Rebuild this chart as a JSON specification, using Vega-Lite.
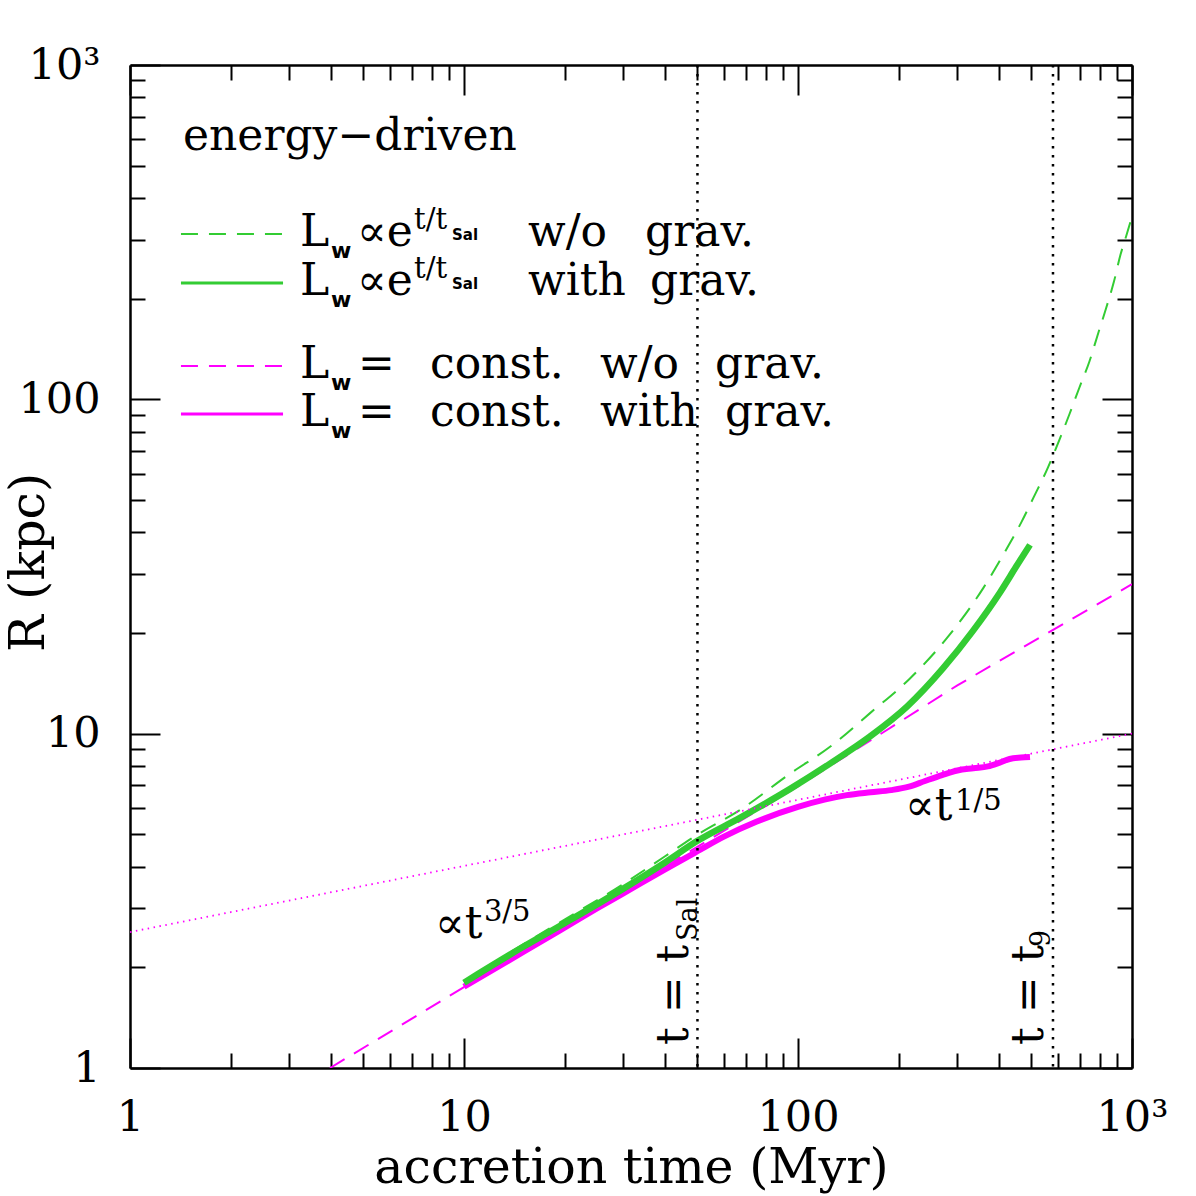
{
  "$schema": "https://vega.github.io/schema/vega-lite/v6.json",
  "width": 1002,
  "height": 1003,
  "autosize": "none",
  "padding": {"left": 130, "top": 65, "right": 64, "bottom": 128},
  "background": "white",
  "config": {"view": {"stroke": null}, "font": "DejaVu Serif"},
  "datasets": {
    "curves": [
      {"series": "const_grav", "t": 10, "R": 1.75},
      {"series": "const_grav", "t": 15, "R": 2.22},
      {"series": "const_grav", "t": 20, "R": 2.63},
      {"series": "const_grav", "t": 25, "R": 3.0},
      {"series": "const_grav", "t": 30, "R": 3.33},
      {"series": "const_grav", "t": 40, "R": 3.93},
      {"series": "const_grav", "t": 50, "R": 4.45},
      {"series": "const_grav", "t": 60, "R": 4.92},
      {"series": "const_grav", "t": 75, "R": 5.45},
      {"series": "const_grav", "t": 100, "R": 6.04},
      {"series": "const_grav", "t": 120, "R": 6.35},
      {"series": "const_grav", "t": 140, "R": 6.55},
      {"series": "const_grav", "t": 165, "R": 6.68},
      {"series": "const_grav", "t": 190, "R": 6.78},
      {"series": "const_grav", "t": 215, "R": 6.94},
      {"series": "const_grav", "t": 240, "R": 7.22},
      {"series": "const_grav", "t": 270, "R": 7.52},
      {"series": "const_grav", "t": 300, "R": 7.76},
      {"series": "const_grav", "t": 335, "R": 7.88},
      {"series": "const_grav", "t": 370, "R": 7.98},
      {"series": "const_grav", "t": 400, "R": 8.18},
      {"series": "const_grav", "t": 430, "R": 8.4},
      {"series": "const_grav", "t": 465, "R": 8.48},
      {"series": "const_grav", "t": 495, "R": 8.52},

      {"series": "const_nograv", "t": 3.97, "R": 1.0},
      {"series": "const_nograv", "t": 10, "R": 1.745},
      {"series": "const_nograv", "t": 30, "R": 3.38},
      {"series": "const_nograv", "t": 100, "R": 6.96},
      {"series": "const_nograv", "t": 300, "R": 13.95},
      {"series": "const_nograv", "t": 1000, "R": 28.0},

      {"series": "exp_grav", "t": 10, "R": 1.8},
      {"series": "exp_grav", "t": 15, "R": 2.3},
      {"series": "exp_grav", "t": 20, "R": 2.71},
      {"series": "exp_grav", "t": 30, "R": 3.44},
      {"series": "exp_grav", "t": 40, "R": 4.12},
      {"series": "exp_grav", "t": 50, "R": 4.78},
      {"series": "exp_grav", "t": 67, "R": 5.6},
      {"series": "exp_grav", "t": 95, "R": 6.85},
      {"series": "exp_grav", "t": 125, "R": 8.15},
      {"series": "exp_grav", "t": 164, "R": 9.8},
      {"series": "exp_grav", "t": 212, "R": 12.05},
      {"series": "exp_grav", "t": 272, "R": 15.7},
      {"series": "exp_grav", "t": 334, "R": 20.3},
      {"series": "exp_grav", "t": 403, "R": 26.5},
      {"series": "exp_grav", "t": 450, "R": 31.6},
      {"series": "exp_grav", "t": 495, "R": 36.7},

      {"series": "exp_nograv", "t": 10, "R": 1.81},
      {"series": "exp_nograv", "t": 15, "R": 2.34},
      {"series": "exp_nograv", "t": 20, "R": 2.78},
      {"series": "exp_nograv", "t": 30, "R": 3.55},
      {"series": "exp_nograv", "t": 40, "R": 4.3},
      {"series": "exp_nograv", "t": 51, "R": 5.05},
      {"series": "exp_nograv", "t": 67, "R": 5.91},
      {"series": "exp_nograv", "t": 95, "R": 7.61},
      {"series": "exp_nograv", "t": 125, "R": 9.15},
      {"series": "exp_nograv", "t": 164, "R": 11.5},
      {"series": "exp_nograv", "t": 216, "R": 14.6},
      {"series": "exp_nograv", "t": 279, "R": 19.3},
      {"series": "exp_nograv", "t": 359, "R": 27.3},
      {"series": "exp_nograv", "t": 422, "R": 35.8},
      {"series": "exp_nograv", "t": 467, "R": 43.0},
      {"series": "exp_nograv", "t": 507, "R": 50.8},
      {"series": "exp_nograv", "t": 560, "R": 62.5},
      {"series": "exp_nograv", "t": 607, "R": 75.9},
      {"series": "exp_nograv", "t": 650, "R": 90.4},
      {"series": "exp_nograv", "t": 696, "R": 108.5},
      {"series": "exp_nograv", "t": 746, "R": 130},
      {"series": "exp_nograv", "t": 788, "R": 155},
      {"series": "exp_nograv", "t": 836, "R": 187},
      {"series": "exp_nograv", "t": 883, "R": 225},
      {"series": "exp_nograv", "t": 924, "R": 271},
      {"series": "exp_nograv", "t": 960, "R": 307},
      {"series": "exp_nograv", "t": 1000, "R": 352},

      {"series": "slope_1_5", "t": 1, "R": 2.55},
      {"series": "slope_1_5", "t": 1000, "R": 10.0}
    ],
    "keys": [
      {"series": "exp_nograv", "t": 1.421, "R": 312.4},
      {"series": "exp_nograv", "t": 2.872, "R": 312.4},
      {"series": "exp_grav", "t": 1.421, "R": 222.9},
      {"series": "exp_grav", "t": 2.872, "R": 222.9},
      {"series": "const_nograv", "t": 1.421, "R": 125.9},
      {"series": "const_nograv", "t": 2.872, "R": 125.9},
      {"series": "const_grav", "t": 1.421, "R": 90.43},
      {"series": "const_grav", "t": 2.872, "R": 90.43}
    ],
    "epochs": [
      {"name": "t_Sal", "t": 50},
      {"name": "t_9", "t": 580}
    ],
    "notes": [
      {"role": "main", "text": "energy−driven", "t": 1.441, "R": 557.2},
      {"role": "main", "text": "L", "t": 3.228, "R": 287.7},
      {"role": "main", "text": "∝e", "t": 4.782, "R": 287.7},
      {"role": "main", "text": "w/o", "t": 15.55, "R": 287.7},
      {"role": "main", "text": "grav.", "t": 34.83, "R": 287.7},
      {"role": "main", "text": "L", "t": 3.228, "R": 205.3},
      {"role": "main", "text": "∝e", "t": 4.782, "R": 205.3},
      {"role": "main", "text": "with", "t": 15.55, "R": 205.3},
      {"role": "main", "text": "grav.", "t": 36.05, "R": 205.3},
      {"role": "main", "text": "L", "t": 3.228, "R": 115.9},
      {"role": "main", "text": "=", "t": 4.815, "R": 115.9},
      {"role": "main", "text": "const.", "t": 7.91, "R": 115.9},
      {"role": "main", "text": "w/o", "t": 25.54, "R": 115.9},
      {"role": "main", "text": "grav.", "t": 56.43, "R": 115.9},
      {"role": "main", "text": "L", "t": 3.228, "R": 83.26},
      {"role": "main", "text": "=", "t": 4.815, "R": 83.26},
      {"role": "main", "text": "const.", "t": 7.91, "R": 83.26},
      {"role": "main", "text": "with", "t": 25.54, "R": 83.26},
      {"role": "main", "text": "grav.", "t": 60.44, "R": 83.26},
      {"role": "main", "text": "∝t", "t": 8.188, "R": 2.448},
      {"role": "main", "text": "∝t", "t": 209.1, "R": 5.519},
      {"role": "sub", "text": "w", "t": 4.0, "R": 264.9},
      {"role": "sub", "text": "w", "t": 4.0, "R": 188.9},
      {"role": "sub", "text": "w", "t": 4.0, "R": 106.7},
      {"role": "sub", "text": "w", "t": 4.0, "R": 76.65},
      {"role": "sup", "text": "t/t", "t": 7.084, "R": 323.4},
      {"role": "sup", "text": "t/t", "t": 7.084, "R": 230.7},
      {"role": "sup", "text": "3/5", "t": 11.47, "R": 2.753},
      {"role": "sup", "text": "1/5", "t": 295.2, "R": 5.912},
      {"role": "subsub", "text": "Sal", "t": 9.206, "R": 299.9},
      {"role": "subsub", "text": "Sal", "t": 9.206, "R": 213.9},
      {"role": "rot", "text": "t = t", "t": 46.84, "R": 1.172},
      {"role": "rot", "text": "t = t", "t": 541.4, "R": 1.172},
      {"role": "rotsub", "text": "Sal", "t": 49.83, "R": 2.399},
      {"role": "rotsub", "text": "9", "t": 568.2, "R": 2.301}
    ]
  },
  "resolve": {"axis": {"x": "independent", "y": "independent"}},
  "layer": [
    {
      "data": {"name": "curves"},
      "transform": [{"filter": "datum.series == 'const_grav'"}],
      "mark": {"type": "line", "stroke": "#ff00ff", "strokeWidth": 6, "interpolate": "monotone", "clip": true},
      "encoding": {
        "x": {
          "field": "t", "type": "quantitative",
          "scale": {"type": "log", "domain": [1, 1000], "nice": false},
          "axis": {
            "orient": "bottom",
            "values": [1, 2, 3, 4, 5, 6, 7, 8, 9, 10, 20, 30, 40, 50, 60, 70, 80, 90, 100, 200, 300, 400, 500, 600, 700, 800, 900, 1000],
            "tickSize": {"condition": {"test": "indexof([1, 10, 100, 1000], datum.value) >= 0", "value": -30}, "value": -15},
            "tickColor": "black", "tickWidth": 2,
            "domainColor": "black", "domainWidth": 2.5,
            "grid": false,
            "labelExpr": "datum.value == 1000 ? '10³' : (indexof([1, 10, 100], datum.value) >= 0 ? datum.label : '')",
            "labelFont": "DejaVu Serif", "labelFontSize": 43, "labelColor": "black",
            "labelBaseline": "top", "labelPadding": 58,
            "labelOverlap": false, "labelFlush": false, "labelBound": false,
            "title": "accretion time (Myr)",
            "titleFont": "DejaVu Serif", "titleFontSize": 49, "titleFontWeight": "normal", "titleColor": "black",
            "titleX": 501, "titleY": 114, "titleBaseline": "alphabetic", "titleAlign": "center"
          }
        },
        "y": {
          "field": "R", "type": "quantitative",
          "scale": {"type": "log", "domain": [1, 1000], "nice": false},
          "axis": {
            "orient": "left",
            "values": [1, 2, 3, 4, 5, 6, 7, 8, 9, 10, 20, 30, 40, 50, 60, 70, 80, 90, 100, 200, 300, 400, 500, 600, 700, 800, 900, 1000],
            "tickSize": {"condition": {"test": "indexof([1, 10, 100, 1000], datum.value) >= 0", "value": -30}, "value": -15},
            "tickColor": "black", "tickWidth": 2,
            "domainColor": "black", "domainWidth": 2.5,
            "grid": false,
            "labelExpr": "datum.value == 1000 ? '10³' : (indexof([1, 10, 100], datum.value) >= 0 ? datum.label : '')",
            "labelFont": "DejaVu Serif", "labelFontSize": 43, "labelColor": "black",
            "labelAlign": "right", "labelBaseline": "middle", "labelPadding": 60,
            "labelOverlap": false, "labelFlush": false, "labelBound": false,
            "title": "R (kpc)",
            "titleFont": "DejaVu Serif", "titleFontSize": 49, "titleFontWeight": "normal", "titleColor": "black",
            "titleX": -87, "titleY": 497, "titleBaseline": "alphabetic", "titleAlign": "center", "titleAngle": 270
          }
        }
      }
    },
    {
      "data": {"name": "curves"},
      "transform": [{"filter": "datum.series == 'const_nograv'"}],
      "mark": {"type": "line", "stroke": "#ff00ff", "strokeWidth": 2, "strokeDash": [17, 11], "clip": true},
      "encoding": {
        "x": {"field": "t", "type": "quantitative", "scale": {"type": "log", "domain": [1, 1000], "nice": false}, "axis": null},
        "y": {"field": "R", "type": "quantitative", "scale": {"type": "log", "domain": [1, 1000], "nice": false}, "axis": null}
      }
    },
    {
      "data": {"name": "curves"},
      "transform": [{"filter": "datum.series == 'exp_grav'"}],
      "mark": {"type": "line", "stroke": "#33cc33", "strokeWidth": 6.5, "interpolate": "monotone", "clip": true},
      "encoding": {
        "x": {"field": "t", "type": "quantitative", "scale": {"type": "log", "domain": [1, 1000], "nice": false}, "axis": null},
        "y": {"field": "R", "type": "quantitative", "scale": {"type": "log", "domain": [1, 1000], "nice": false}, "axis": null}
      }
    },
    {
      "data": {"name": "curves"},
      "transform": [{"filter": "datum.series == 'exp_nograv'"}],
      "mark": {"type": "line", "stroke": "#33cc33", "strokeWidth": 2, "strokeDash": [17, 11], "interpolate": "monotone", "clip": true},
      "encoding": {
        "x": {"field": "t", "type": "quantitative", "scale": {"type": "log", "domain": [1, 1000], "nice": false}, "axis": null},
        "y": {"field": "R", "type": "quantitative", "scale": {"type": "log", "domain": [1, 1000], "nice": false}, "axis": null}
      }
    },
    {
      "data": {"name": "curves"},
      "transform": [{"filter": "datum.series == 'slope_1_5'"}],
      "mark": {"type": "line", "stroke": "#ff00ff", "strokeWidth": 1.8, "strokeDash": [1.5, 4.5], "clip": true},
      "encoding": {
        "x": {
          "field": "t", "type": "quantitative",
          "scale": {"type": "log", "domain": [1, 1000], "nice": false},
          "axis": {
            "orient": "top",
            "values": [1, 2, 3, 4, 5, 6, 7, 8, 9, 10, 20, 30, 40, 50, 60, 70, 80, 90, 100, 200, 300, 400, 500, 600, 700, 800, 900, 1000],
            "tickSize": {"condition": {"test": "indexof([1, 10, 100, 1000], datum.value) >= 0", "value": -30}, "value": -15},
            "tickColor": "black", "tickWidth": 2,
            "domainColor": "black", "domainWidth": 2.5,
            "grid": false, "labels": false, "title": null
          }
        },
        "y": {
          "field": "R", "type": "quantitative",
          "scale": {"type": "log", "domain": [1, 1000], "nice": false},
          "axis": {
            "orient": "right",
            "values": [1, 2, 3, 4, 5, 6, 7, 8, 9, 10, 20, 30, 40, 50, 60, 70, 80, 90, 100, 200, 300, 400, 500, 600, 700, 800, 900, 1000],
            "tickSize": {"condition": {"test": "indexof([1, 10, 100, 1000], datum.value) >= 0", "value": -30}, "value": -15},
            "tickColor": "black", "tickWidth": 2,
            "domainColor": "black", "domainWidth": 2.5,
            "grid": false, "labels": false, "title": null
          }
        }
      }
    },
    {
      "data": {"name": "epochs"},
      "mark": {"type": "rule", "stroke": "black", "strokeWidth": 2.5, "strokeDash": [2.5, 6.5]},
      "encoding": {
        "x": {"field": "t", "type": "quantitative", "scale": {"type": "log", "domain": [1, 1000], "nice": false}, "axis": null}
      }
    },
    {
      "data": {"name": "keys"},
      "transform": [{"filter": "datum.series == 'exp_nograv' || datum.series == 'const_nograv'"}],
      "mark": {"type": "line", "strokeWidth": 2, "strokeDash": [17, 11]},
      "encoding": {
        "x": {"field": "t", "type": "quantitative", "scale": {"type": "log", "domain": [1, 1000], "nice": false}, "axis": null},
        "y": {"field": "R", "type": "quantitative", "scale": {"type": "log", "domain": [1, 1000], "nice": false}, "axis": null},
        "detail": {"field": "series"},
        "color": {
          "field": "series", "type": "nominal", "legend": null,
          "scale": {"domain": ["exp_nograv", "exp_grav", "const_nograv", "const_grav"], "range": ["#33cc33", "#33cc33", "#ff00ff", "#ff00ff"]}
        }
      }
    },
    {
      "data": {"name": "keys"},
      "transform": [{"filter": "datum.series == 'exp_grav' || datum.series == 'const_grav'"}],
      "mark": {"type": "line", "strokeWidth": 3},
      "encoding": {
        "x": {"field": "t", "type": "quantitative", "scale": {"type": "log", "domain": [1, 1000], "nice": false}, "axis": null},
        "y": {"field": "R", "type": "quantitative", "scale": {"type": "log", "domain": [1, 1000], "nice": false}, "axis": null},
        "detail": {"field": "series"},
        "color": {
          "field": "series", "type": "nominal", "legend": null,
          "scale": {"domain": ["exp_nograv", "exp_grav", "const_nograv", "const_grav"], "range": ["#33cc33", "#33cc33", "#ff00ff", "#ff00ff"]}
        }
      }
    },
    {
      "data": {"name": "notes"},
      "transform": [{"filter": "datum.role == 'main'"}],
      "mark": {"type": "text", "font": "DejaVu Serif", "fontSize": 44, "align": "left", "baseline": "alphabetic", "color": "black"},
      "encoding": {
        "x": {"field": "t", "type": "quantitative", "scale": {"type": "log", "domain": [1, 1000], "nice": false}, "axis": null},
        "y": {"field": "R", "type": "quantitative", "scale": {"type": "log", "domain": [1, 1000], "nice": false}, "axis": null},
        "text": {"field": "text"}
      }
    },
    {
      "data": {"name": "notes"},
      "transform": [{"filter": "datum.role == 'sub'"}],
      "mark": {"type": "text", "font": "DejaVu Sans", "fontWeight": "bold", "fontSize": 22, "align": "left", "baseline": "alphabetic", "color": "black"},
      "encoding": {
        "x": {"field": "t", "type": "quantitative", "scale": {"type": "log", "domain": [1, 1000], "nice": false}, "axis": null},
        "y": {"field": "R", "type": "quantitative", "scale": {"type": "log", "domain": [1, 1000], "nice": false}, "axis": null},
        "text": {"field": "text"}
      }
    },
    {
      "data": {"name": "notes"},
      "transform": [{"filter": "datum.role == 'sup'"}],
      "mark": {"type": "text", "font": "DejaVu Serif", "fontSize": 29, "align": "left", "baseline": "alphabetic", "color": "black"},
      "encoding": {
        "x": {"field": "t", "type": "quantitative", "scale": {"type": "log", "domain": [1, 1000], "nice": false}, "axis": null},
        "y": {"field": "R", "type": "quantitative", "scale": {"type": "log", "domain": [1, 1000], "nice": false}, "axis": null},
        "text": {"field": "text"}
      }
    },
    {
      "data": {"name": "notes"},
      "transform": [{"filter": "datum.role == 'subsub'"}],
      "mark": {"type": "text", "font": "DejaVu Sans", "fontWeight": "bold", "fontSize": 15, "align": "left", "baseline": "alphabetic", "color": "black"},
      "encoding": {
        "x": {"field": "t", "type": "quantitative", "scale": {"type": "log", "domain": [1, 1000], "nice": false}, "axis": null},
        "y": {"field": "R", "type": "quantitative", "scale": {"type": "log", "domain": [1, 1000], "nice": false}, "axis": null},
        "text": {"field": "text"}
      }
    },
    {
      "data": {"name": "notes"},
      "transform": [{"filter": "datum.role == 'rot'"}],
      "mark": {"type": "text", "font": "DejaVu Serif", "fontSize": 44, "angle": 270, "align": "left", "baseline": "alphabetic", "color": "black"},
      "encoding": {
        "x": {"field": "t", "type": "quantitative", "scale": {"type": "log", "domain": [1, 1000], "nice": false}, "axis": null},
        "y": {"field": "R", "type": "quantitative", "scale": {"type": "log", "domain": [1, 1000], "nice": false}, "axis": null},
        "text": {"field": "text"}
      }
    },
    {
      "data": {"name": "notes"},
      "transform": [{"filter": "datum.role == 'rotsub'"}],
      "mark": {"type": "text", "font": "DejaVu Serif", "fontSize": 27, "angle": 270, "align": "left", "baseline": "alphabetic", "color": "black"},
      "encoding": {
        "x": {"field": "t", "type": "quantitative", "scale": {"type": "log", "domain": [1, 1000], "nice": false}, "axis": null},
        "y": {"field": "R", "type": "quantitative", "scale": {"type": "log", "domain": [1, 1000], "nice": false}, "axis": null},
        "text": {"field": "text"}
      }
    }
  ]
}
